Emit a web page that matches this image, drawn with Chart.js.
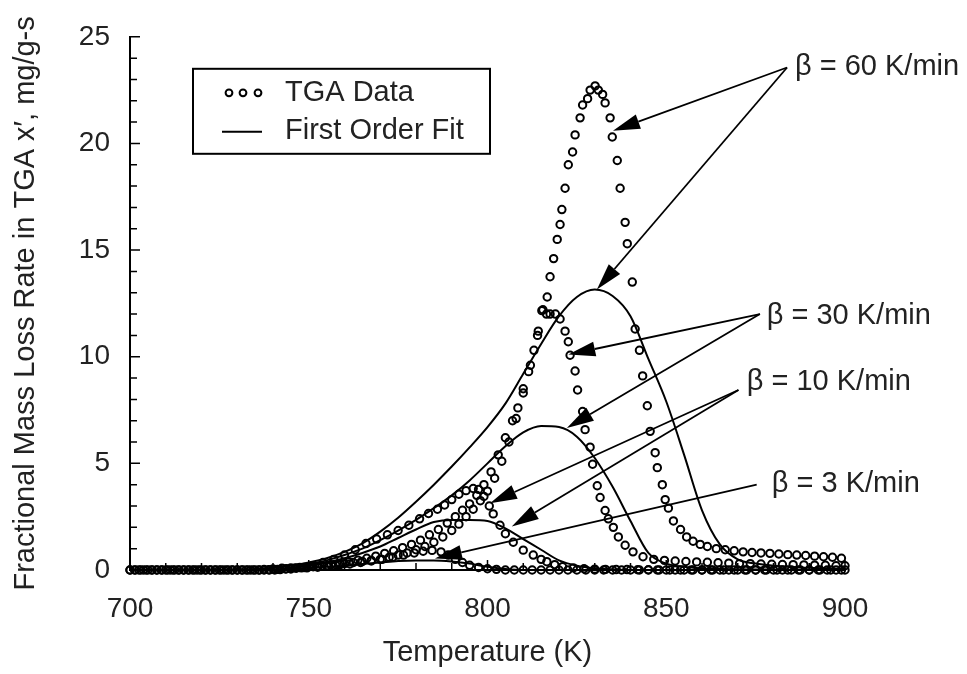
<!DOCTYPE html>
<html>
<head>
<meta charset="utf-8">
<script src="https://cdn.jsdelivr.net/npm/chart.js@4.4.1/dist/chart.umd.min.js"></script>
<style>
  html, body { margin: 0; padding: 0; background: #fff; }
  #wrap { width: 967px; height: 674px; }
</style>
</head>
<body>
<div id="wrap"><canvas id="tgaChart" width="967" height="674"></canvas></div>
<script>
// TGA data, heating rate 60 K/min
const temps60 = [
  700, 702.5, 705, 707.5, 710, 712.5, 715, 717.5, 720, 722.5, 725, 727.5, 730, 732.5, 735, 737.5,
  740, 742.5, 745, 747.5, 750, 752.5, 755, 757.5, 760, 762.5, 765, 767.5, 770, 772.5, 775, 777.5, 780, 782.5, 785, 787.5,
  790, 792, 794, 796, 798, 800, 802, 804, 806, 808, 810, 812, 814, 815.5, 816.7, 817.5, 818.5, 819.5, 820.3, 820.8,
  821.7, 822.6, 823.8, 824.5, 825.9, 826.6, 828, 828.7, 830.1, 831, 832.2, 832.9, 834.3, 834.9, 836.3, 837.1, 838.5, 839.1, 840.5, 841.3,
  842.5, 843.4, 844.7, 845.5, 846.9, 847.5, 848.9, 849.7, 850.6, 852, 854, 855.7, 857.5, 859.5, 861.5, 864, 866.5, 869, 871.5, 874,
  876.5, 879, 881.5, 884, 886.5, 889, 891.5, 894, 896.5, 899
];
const rate60 = [
  0, 0, 0, 0, 0, 0, 0, 0, 0, 0, 0, 0, 0, 0, 0, 0.02,
  0.05, 0.08, 0.1, 0.12, 0.15, 0.18, 0.2, 0.25, 0.3, 0.35, 0.4, 0.45, 0.5, 0.6, 0.7, 0.8, 0.95, 1.1, 1.3, 1.55,
  1.85, 2.15, 2.5, 2.85, 3.25, 3.7, 4.3, 5.1, 6.0, 7.1, 8.3, 9.6, 11.0, 12.2, 12.8, 13.75, 14.6, 15.5, 16.2, 16.9,
  17.9, 19.0, 19.6, 20.4, 21.2, 21.8, 22.1, 22.5, 22.7, 22.5, 22.3, 21.9, 21.2, 20.3, 19.2, 17.9, 16.3, 15.3, 13.5, 11.3,
  10.3, 9.1, 7.7, 6.5, 5.5, 4.8, 4.0, 3.3, 2.9, 2.3, 1.9, 1.55, 1.35, 1.2, 1.1, 1.0, 0.95, 0.9, 0.85, 0.82,
  0.8, 0.78, 0.75, 0.72, 0.7, 0.68, 0.65, 0.62, 0.6, 0.55
];

// TGA data, 30 K/min
const temps30 = [
  701.25, 703.75, 706.25, 708.75, 711.25, 713.75, 716.25, 718.75, 721.25, 723.75, 726.25, 728.75, 731.25, 733.75, 736.25, 738.75,
  741.25, 743.75, 746.25, 748.75, 751.25, 753.75, 756.25, 758.75, 761.25, 763.75, 766.25, 768.75, 771.25, 773.75, 776.25, 778.75, 781.25, 783.75, 786.25, 788.75,
  791, 793, 795, 797, 799, 801, 803, 805, 807, 808.5, 810, 811.5, 813, 814.2, 815.2, 816.5, 817.5, 819, 820.3, 821.7,
  822.6, 823.1, 824.5, 825.2, 826.6, 827.3, 828.7, 829.4, 830.7, 831.5, 832.9, 833.8, 835.2, 836.6, 838.5, 840.7, 843.5, 846.5, 849.5, 852.5,
  855.5, 858.5, 861.5, 864.5, 867.5, 870.5, 873.5, 876.5, 879.5, 882.5, 885.5, 888.5, 891.5, 894.5, 897.5, 900
];
const rate30 = [
  0, 0, 0, 0, 0, 0, 0, 0, 0, 0, 0, 0, 0, 0, 0, 0.01,
  0.03, 0.06, 0.1, 0.12, 0.15, 0.2, 0.25, 0.3, 0.38, 0.46, 0.55, 0.65, 0.78, 0.9, 1.05, 1.2, 1.4, 1.65, 1.9, 2.2,
  2.5, 2.8, 3.1, 3.5, 4.0, 4.6, 5.4, 6.2, 7.0, 7.6, 8.5, 9.3, 10.3, 11.2, 12.16, 12.0, 12.0, 12.0, 11.77, 11.2,
  10.7, 10.07, 9.33, 8.44, 7.43, 6.58, 5.76, 4.96, 3.95, 3.4, 2.79, 2.4, 2.0, 1.55, 1.16, 0.85, 0.62, 0.5, 0.45, 0.42,
  0.4, 0.38, 0.36, 0.34, 0.32, 0.3, 0.3, 0.28, 0.27, 0.26, 0.25, 0.24, 0.23, 0.22, 0.2, 0.2
];

// TGA data, 10 K/min
const temps10 = [
  700, 703, 706, 709, 712, 715, 718, 721, 724, 727, 730, 733, 736, 739, 742, 745,
  748, 751, 754, 757, 760, 763, 766, 769, 772, 775, 778, 781, 783.5, 786, 788, 790, 792, 794, 796, 797.5,
  799, 800.5, 801.6, 803.5, 805, 807.2, 810, 812.8, 815, 816.6, 818.8, 821, 824, 827, 830, 833, 836, 839, 842, 845,
  848, 851, 854, 857, 860, 863, 866, 869, 872, 875, 878, 881, 884, 887, 890, 893, 896, 899
];
const rate10 = [
  0, 0, 0, 0, 0, 0, 0, 0, 0, 0, 0, 0, 0, 0, 0.02, 0.05,
  0.1, 0.2, 0.35, 0.5, 0.7, 0.95, 1.24, 1.45, 1.65, 1.85, 2.1, 2.4, 2.65, 2.85, 3.05, 3.3, 3.55, 3.72, 3.82, 3.78,
  3.45, 3.0, 2.63, 2.1, 1.7, 1.3, 0.93, 0.7, 0.5, 0.39, 0.25, 0.15, 0.1, 0.06, 0.04, 0.03, 0.02, 0.02, 0.01, 0.01,
  0, 0, 0, 0, 0, 0, 0, 0, 0, 0, 0, 0, 0, 0, 0, 0, 0, 0
];

// TGA data, 3 K/min
const temps3 = [
  701.5, 704.5, 707.5, 710.5, 713.5, 716.5, 719.5, 722.5, 725.5, 728.5, 731.5, 734.5, 737.5, 740.5,
  743.5, 746.5, 749.5, 752.5, 755.5, 758.5, 761.5, 764.5, 767.5, 770.5, 773.5, 776.5, 779.5, 782, 784.5, 787, 789, 791, 793, 795,
  797.5, 800, 802.5, 805, 807.5, 810, 812.5, 815, 817.5, 820, 822.5, 825, 827.5, 830, 832.5, 835, 837.5, 840, 842.5, 845,
  847.5, 850, 852.5, 855, 857.5, 860, 862.5, 865, 867.5, 870, 872.5, 875, 877.5, 880, 882.5, 885, 887.5, 890, 892.5, 895, 897.5, 900
];
const rate3 = [
  0, 0, 0, 0, 0, 0, 0, 0, 0, 0, 0, 0, 0, 0,
  0.05, 0.08, 0.1, 0.13, 0.17, 0.22, 0.28, 0.35, 0.42, 0.5, 0.6, 0.7, 0.8, 0.88, 0.92, 0.85, 0.7, 0.5, 0.35, 0.22,
  0.12, 0.06, 0.03, 0, 0, 0, 0, 0, 0, 0, 0, 0, 0, 0, 0, 0, 0, 0, 0, 0,
  0, 0, 0, 0, 0, 0, 0, 0, 0, 0, 0, 0, 0, 0, 0, 0, 0, 0, 0, 0, 0, 0
];

// first order fits, shared temperature grid
const fitTemps = [
  700, 705, 710, 715, 720, 725, 730, 735, 740, 745, 750, 755, 760, 765, 770, 775, 780, 785, 790, 795,
  800, 805, 810, 815, 820, 825, 830, 835, 840, 845, 850, 855, 860, 865, 870, 875, 880, 885, 890, 895, 900
];
const fit60 = [
  0, 0, 0, 0, 0, 0, 0, 0.05, 0.1, 0.2, 0.35, 0.55, 0.85, 1.25, 1.8, 2.45, 3.2, 4.0, 4.85, 5.75,
  6.7, 7.8, 9.2, 10.6, 11.9, 12.8, 13.15, 12.85, 11.9, 9.9, 7.9, 5.4, 2.8, 1.2, 0.5, 0.3, 0.2, 0.15, 0.1, 0.08, 0.05
];
const fit30 = [
  0, 0, 0, 0, 0, 0, 0, 0, 0.02, 0.1, 0.25, 0.45, 0.7, 1.0, 1.4, 1.85, 2.35, 2.9, 3.5, 4.2,
  5.0, 5.8, 6.45, 6.75, 6.7, 6.25, 5.25, 3.9, 2.3, 0.8, 0.3, 0.15, 0.08, 0.05, 0.03, 0.02, 0.02, 0.01, 0.01, 0, 0
];
const fit10 = [
  0, 0, 0, 0, 0, 0, 0, 0, 0, 0.1, 0.2, 0.35, 0.55, 0.8, 1.1, 1.5, 1.9, 2.25, 2.35, 2.35,
  2.3, 1.95, 1.45, 0.95, 0.45, 0.2, 0.08, 0.03, 0, 0, 0, 0, 0, 0, 0, 0, 0, 0, 0, 0, 0
];
const fit3 = [
  0, 0, 0, 0, 0, 0, 0, 0, 0, 0.05, 0.1, 0.15, 0.2, 0.28, 0.35, 0.42, 0.45, 0.45, 0.4, 0.3,
  0.15, 0.05, 0, 0, 0, 0, 0, 0, 0, 0, 0, 0, 0, 0, 0, 0, 0, 0, 0, 0, 0
];

// arrow callouts, in data units (temperature, rate)
const callouts = [
  { text: "β = 60 K/min", at: [886.0, 23.6], from: [883.8, 23.56], tips: [[835.1, 20.59], [830.6, 13.15]] },
  { text: "β = 30 K/min", at: [878.1, 11.93], from: [876.2, 12.0], tips: [[822.6, 10.1], [822.2, 6.66]] },
  { text: "β = 10 K/min", at: [872.5, 8.83], from: [870.2, 8.44], tips: [[800.7, 3.13], [806.8, 2.04]] },
  { text: "β = 3 K/min", at: [879.5, 4.03], from: [875.3, 4.0], tips: [[785.3, 0.54]] }
];

const FONT = "'Liberation Sans', Arial, Helvetica, sans-serif";
const pts = (xs, ys) => xs.map((t, i) => ({ x: t, y: ys[i] }));

function dataSet(xs, ys) {
  return {
    data: pts(xs, ys),
    showLine: false,
    pointStyle: "circle",
    pointRadius: 3.7,
    pointBorderWidth: 2,
    borderColor: "#000",
    backgroundColor: "rgba(0,0,0,0)",
    clip: false,
  };
}
function fitSet(ys) {
  return {
    data: pts(fitTemps, ys),
    showLine: true,
    pointRadius: 0,
    borderColor: "#000",
    borderWidth: 2,
    cubicInterpolationMode: "monotone",
    clip: false,
  };
}

function drawArrow(ctx, x0, y0, x1, y1) {
  const ang = Math.atan2(y1 - y0, x1 - x0);
  const len = 27, half = 7.5;
  const bx = x1 - len * Math.cos(ang), by = y1 - len * Math.sin(ang);
  ctx.beginPath();
  ctx.moveTo(x0, y0);
  ctx.lineTo(bx, by);
  ctx.stroke();
  ctx.beginPath();
  ctx.moveTo(x1, y1);
  ctx.lineTo(bx + half * Math.sin(ang), by - half * Math.cos(ang));
  ctx.lineTo(bx - half * Math.sin(ang), by + half * Math.cos(ang));
  ctx.closePath();
  ctx.fill();
}

const decor = {
  id: "decor",
  afterDraw(chart) {
    const { ctx, chartArea: a, scales: { x, y } } = chart;
    ctx.save();
    ctx.strokeStyle = "#000";
    ctx.fillStyle = "#000";
    ctx.lineWidth = 1.5;

    // inward tick marks
    ctx.beginPath();
    for (let v = 0; v <= 25; v++) {
      const py = y.getPixelForValue(v);
      const len = v % 5 === 0 ? 10 : 7;
      ctx.moveTo(a.left, py);
      ctx.lineTo(a.left + len, py);
    }
    for (let t = 700; t <= 900; t += 10) {
      const px = x.getPixelForValue(t);
      const len = t % 50 === 0 ? 10 : 7;
      ctx.moveTo(px, a.bottom);
      ctx.lineTo(px, a.bottom - len);
    }
    ctx.stroke();

    // legend box
    const lx = a.left + 63, ly = a.top + 32;
    ctx.lineWidth = 2;
    ctx.fillStyle = "#fff";
    ctx.fillRect(lx, ly, 297, 85);
    ctx.strokeRect(lx, ly, 297, 85);
    ctx.fillStyle = "#000";
    ctx.lineWidth = 2;
    [36, 50, 65].forEach(dx => {
      ctx.beginPath();
      ctx.arc(lx + dx, ly + 24, 3.4, 0, Math.PI * 2);
      ctx.stroke();
    });
    ctx.beginPath();
    ctx.moveTo(lx + 29, ly + 63);
    ctx.lineTo(lx + 69, ly + 63);
    ctx.stroke();
    ctx.font = "29px " + FONT;
    ctx.fillStyle = "#222";
    ctx.textBaseline = "middle";
    ctx.textAlign = "left";
    ctx.fillText("TGA Data", lx + 92, ly + 24);
    ctx.fillText("First Order Fit", lx + 92, ly + 62);

    // callouts
    ctx.fillStyle = "#000";
    ctx.lineWidth = 1.8;
    callouts.forEach(c => {
      const fx = x.getPixelForValue(c.from[0]), fy = y.getPixelForValue(c.from[1]);
      c.tips.forEach(tp => drawArrow(ctx, fx, fy, x.getPixelForValue(tp[0]), y.getPixelForValue(tp[1])));
      ctx.fillStyle = "#222";
      ctx.fillText(c.text, x.getPixelForValue(c.at[0]), y.getPixelForValue(c.at[1]));
      ctx.fillStyle = "#000";
    });
    ctx.restore();
  }
};

new Chart(document.getElementById("tgaChart").getContext("2d"), {
  type: "scatter",
  data: {
    datasets: [
      dataSet(temps60, rate60),
      dataSet(temps30, rate30),
      dataSet(temps10, rate10),
      dataSet(temps3, rate3),
      fitSet(fit60),
      fitSet(fit30),
      fitSet(fit10),
      fitSet(fit3),
    ],
  },
  options: {
    responsive: false,
    animation: false,
    layout: { padding: { left: 0, right: 122, top: 32, bottom: 0 } },
    plugins: {
      legend: { display: false },
      tooltip: { enabled: false },
    },
    scales: {
      x: {
        type: "linear",
        min: 700,
        max: 900,
        ticks: { stepSize: 50, color: "#222", padding: 22, font: { family: FONT, size: 28 } },
        grid: { display: false, drawTicks: false },
        border: { display: true, color: "#000", width: 2 },
        title: { display: true, text: "Temperature (K)", color: "#222", padding: { top: 4, bottom: 4 }, font: { family: FONT, size: 29 } },
        afterFit: s => { s.height = 104; },
      },
      y: {
        min: 0,
        max: 25,
        ticks: { stepSize: 5, color: "#222", padding: 20, font: { family: FONT, size: 28 } },
        grid: { display: false, drawTicks: false },
        border: { display: true, color: "#000", width: 2 },
        title: { display: true, text: "Fractional Mass Loss Rate in TGA x′, mg/g-s", color: "#222", padding: { top: 9, bottom: 0 }, font: { family: FONT, size: 29 } },
        afterFit: s => { s.width = 130; },
      },
    },
  },
  plugins: [decor],
});
</script>
</body>
</html>
